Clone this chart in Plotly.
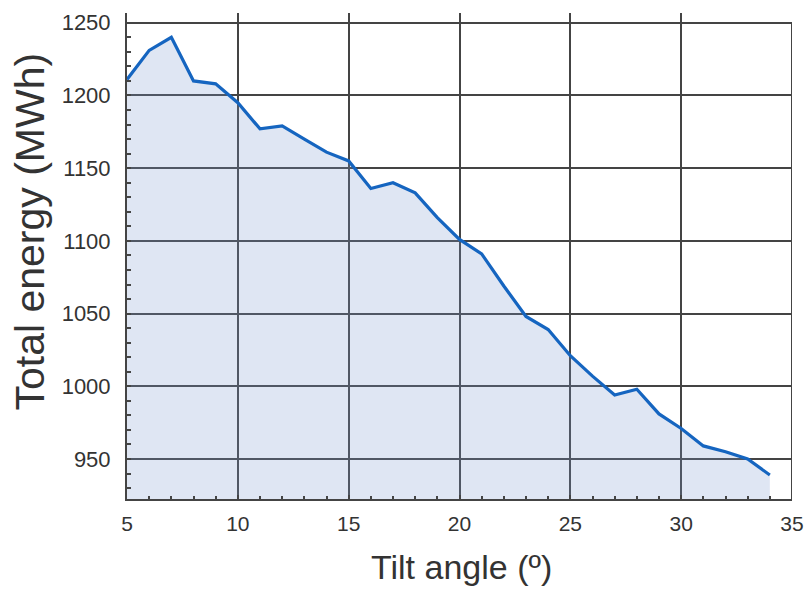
import plotly.graph_objects as go

tilt_angle = list(range(5, 35))
total_energy = [1211, 1231, 1240, 1210, 1208, 1195, 1177, 1179, 1170, 1161,
                1155, 1136, 1140, 1133, 1116, 1101, 1091, 1069, 1048, 1039,
                1021, 1007, 994, 998, 981, 971, 959, 955, 950, 939]

x_ticks = [5, 10, 15, 20, 25, 30, 35]
y_ticks = [950, 1000, 1050, 1100, 1150, 1200, 1250]

x_title = "Tilt angle (º)"
y_title = "Total energy (MWh)"

GRID = "#444444"
TEXT = "#333333"
FONT = "Liberation Sans, Arial, sans-serif"

fig = go.Figure()
fig.add_trace(go.Scatter(
    x=tilt_angle, y=total_energy, mode="lines",
    line=dict(color="#1565c0", width=3.2),
    fill="tozeroy", fillcolor="rgba(120,150,205,0.24)",
    hoverinfo="skip", showlegend=False,
))

# right border line at x=35 up to the top gridline
fig.add_shape(type="line", xref="x", yref="y", x0=35, x1=35, y0=922.5, y1=1250,
              line=dict(color=GRID, width=2))

# axis titles
fig.add_annotation(text=y_title, xref="paper", yref="paper",
                   x=(30 - 127.3) / 665.0, y=(499.3 - 232) / 486.3,
                   xanchor="center", yanchor="middle", textangle=-90, showarrow=False,
                   font=dict(size=41, family=FONT, color=TEXT))
fig.add_annotation(text=x_title, xref="paper", yref="paper",
                   x=(462 - 127.3) / 665.0, y=(499.3 - 567) / 486.3,
                   xanchor="center", yanchor="middle", showarrow=False,
                   font=dict(size=34, family=FONT, color=TEXT))

fig.update_layout(
    width=806, height=589,
    margin=dict(l=127, r=14, t=13, b=90),
    paper_bgcolor="white", plot_bgcolor="white",
    font=dict(family=FONT, color=TEXT),
    xaxis=dict(
        range=[5, 35], tickvals=x_ticks, ticktext=[str(v) for v in x_ticks],
        showgrid=True, gridcolor=GRID, gridwidth=2,
        showline=True, linecolor=GRID, linewidth=2,
        ticks="inside", ticklen=4, tickcolor=GRID, tickwidth=2,
        minor=dict(dtick=1, tick0=5, ticks="inside", ticklen=3, tickcolor=GRID, tickwidth=2, showgrid=False),
        tickfont=dict(size=21, family=FONT, color=TEXT),
        ticklabelstandoff=5,
        automargin=False,
        zeroline=False, fixedrange=True,
    ),
    yaxis=dict(
        range=[922.5, 1256.7], tickvals=y_ticks, ticktext=[str(v) for v in y_ticks],
        showgrid=True, gridcolor=GRID, gridwidth=2,
        showline=True, linecolor=GRID, linewidth=2,
        ticks="inside", ticklen=4, tickcolor=GRID, tickwidth=2,
        minor=dict(dtick=10, tick0=950, ticks="inside", ticklen=4, tickcolor=GRID, tickwidth=2, showgrid=False),
        tickfont=dict(size=22, family=FONT, color=TEXT),
        ticklabelstandoff=10,
        automargin=False,
        zeroline=False, fixedrange=True,
    ),
)

fig.write_html("out.html", config={"displayModeBar": False},
               post_script="document.body.style.margin='0';document.body.style.overflow='hidden';")
